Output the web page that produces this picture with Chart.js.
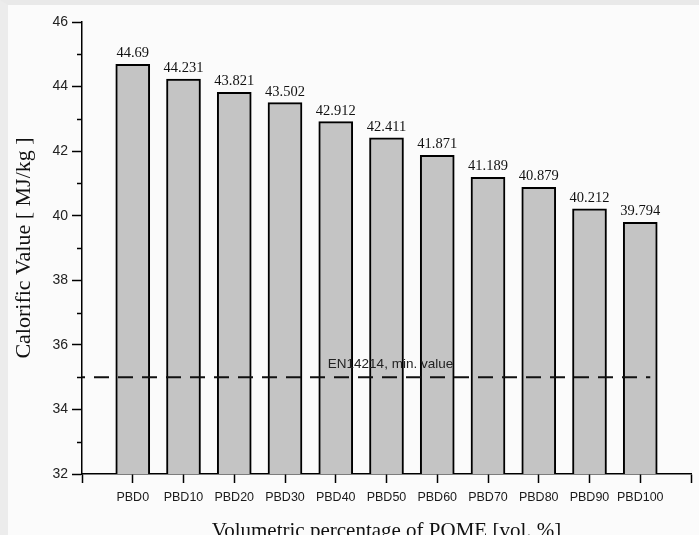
<!DOCTYPE html>
<html>
<head>
<meta charset="utf-8">
<script src="https://cdn.jsdelivr.net/npm/chart.js@4/dist/chart.umd.min.js"></script>
<style>
  html, body { margin: 0; padding: 0; background: #fbfbfb; overflow: hidden; }
  #wrap { position: relative; width: 699px; height: 535px; box-sizing: border-box;
          border-top: 5px solid #e9e9e9; border-left: 8px solid #ececec; }
  #c { position: absolute; left: -8px; top: -5px; }
</style>
</head>
<body>
<div id="wrap"><canvas id="c" width="699" height="535"></canvas></div>
<script>
// Blend names and their calorific values (MJ/kg)
const blends = ['PBD0', 'PBD10', 'PBD20', 'PBD30', 'PBD40', 'PBD50', 'PBD60', 'PBD70', 'PBD80', 'PBD90', 'PBD100'];
const calorificValues = [44.69, 44.231, 43.821, 43.502, 42.912, 42.411, 41.871, 41.189, 40.879, 40.212, 39.794];
// EN14214 minimum value
const minLimit = 35;
const minLimitLabel = 'EN14214, min. value';
// Y axis range and major step
const yMin = 32, yMax = 46, yStep = 2;

// empty slots at both ends give the half-category margins of the axis
const axisLabels = ['', ...blends, ''];
const barData = [null, ...calorificValues, null];

const serif = "'Liberation Serif', 'Times New Roman', serif";
const sans = "'Liberation Sans', Arial, sans-serif";

const extras = {
  id: 'extras',
  afterDraw(chart) {
    const ctx = chart.ctx;
    const x = chart.scales.x, y = chart.scales.y;
    const area = chart.chartArea;
    ctx.save();
    // minor ticks on the value axis
    ctx.strokeStyle = '#000';
    ctx.lineWidth = 1.5;
    for (let v = yMin + 1; v < yMax; v += yStep) {
      const py = Math.round(y.getPixelForValue(v)) + 0.5;
      ctx.beginPath();
      ctx.moveTo(area.left - 5, py);
      ctx.lineTo(area.left, py);
      ctx.stroke();
    }
    // minimum-value reference line
    const ly = y.getPixelForValue(minLimit);
    ctx.setLineDash([15, 9]);
    ctx.lineDashOffset = -12;
    ctx.lineWidth = 2;
    ctx.strokeStyle = '#111';
    ctx.beginPath();
    ctx.moveTo(area.left, ly);
    ctx.lineTo(x.getPixelForValue(blends.length) + 10, ly);
    ctx.stroke();
    ctx.setLineDash([]);
    ctx.font = "13.5px " + sans;
    ctx.fillStyle = '#222';
    ctx.textAlign = 'center';
    ctx.textBaseline = 'alphabetic';
    ctx.fillText(minLimitLabel, x.getPixelForValue(6) + 4, ly - 9);
    // value labels above the bars
    ctx.font = "14.5px " + serif;
    ctx.fillStyle = '#111';
    const meta = chart.getDatasetMeta(0);
    meta.data.forEach((bar, i) => {
      const v = barData[i];
      if (v === null) return;
      ctx.fillText(String(v), bar.x, bar.y - 7);
    });
    ctx.restore();
  }
};

new Chart(document.getElementById('c'), {
  type: 'bar',
  data: {
    labels: axisLabels,
    datasets: [{
      data: barData,
      backgroundColor: '#c4c4c4',
      borderColor: '#000',
      borderWidth: 2,
      borderSkipped: 'start',
      barThickness: 34
    }]
  },
  options: {
    responsive: false,
    animation: false,
    layout: { padding: { left: 0, right: 8, top: 22, bottom: 0 } },
    plugins: { legend: { display: false }, tooltip: { enabled: false } },
    scales: {
      x: {
        offset: false,
        grid: { offset: false, drawOnChartArea: false, drawTicks: true, tickLength: 9, tickColor: '#000', tickWidth: 1.5 },
        border: { color: '#000', width: 1.5 },
        ticks: { autoSkip: false, maxRotation: 0, padding: 7, color: '#1a1a1a', font: { family: sans, size: 12.5 } },
        title: {
          display: true,
          text: 'Volumetric percentage of POME [vol. %]',
          color: '#111',
          font: { family: serif, size: 21, lineHeight: 1.2 },
          padding: { top: 0, bottom: -9 }
        },
        afterFit(scale) { scale.height = 61; }
      },
      y: {
        min: yMin,
        max: yMax,
        ticks: { stepSize: yStep, padding: 4, color: '#222', font: { family: sans, size: 14 } },
        grid: { drawOnChartArea: false, drawTicks: true, tickLength: 10, tickColor: '#000', tickWidth: 1.5 },
        border: { color: '#000', width: 1.5 },
        title: {
          display: true,
          text: 'Calorific Value [ MJ/kg ]',
          color: '#111',
          font: { family: serif, size: 22, lineHeight: 1.2 },
          padding: { top: 11, bottom: 0 }
        },
        afterFit(scale) { scale.width = 82; }
      }
    }
  },
  plugins: [extras]
});
</script>
</body>
</html>
